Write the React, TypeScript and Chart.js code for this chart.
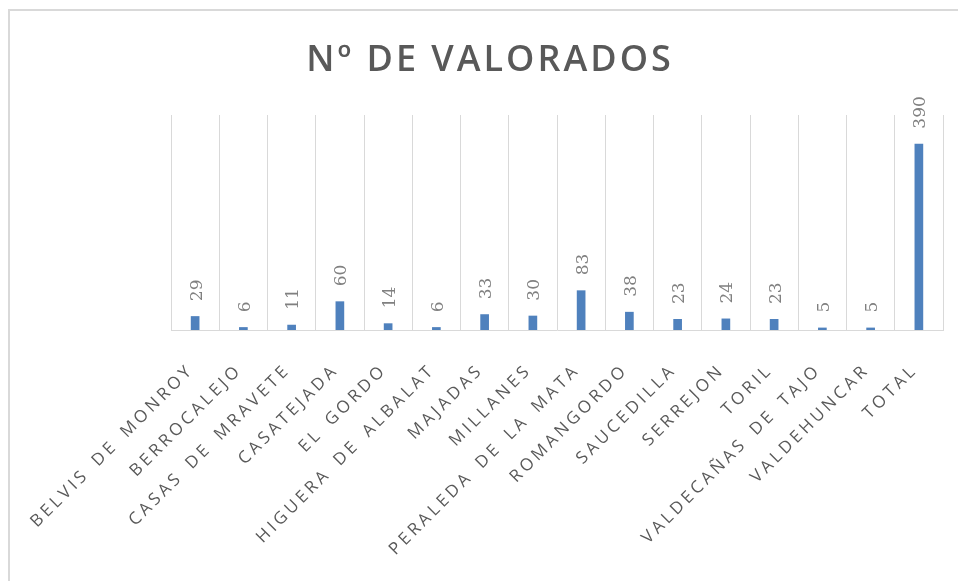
import React, { useEffect, useRef } from "react";
import { Chart, registerables } from "chart.js";

Chart.register(...registerables);

const TITLE = "Nº DE VALORADOS";
const categories = [
  "BELVIS DE MONROY",
  "BERROCALEJO",
  "CASAS DE MRAVETE",
  "CASATEJADA",
  "EL GORDO",
  "HIGUERA DE ALBALAT",
  "MAJADAS",
  "MILLANES",
  "PERALEDA DE LA MATA",
  "ROMANGORDO",
  "SAUCEDILLA",
  "SERREJON",
  "TORIL",
  "VALDECAÑAS DE TAJO",
  "VALDEHUNCAR",
  "TOTAL",
];
const values = [29, 6, 11, 60, 14, 6, 33, 30, 83, 38, 23, 24, 23, 5, 5, 390];
const Y_MIN = 0;
const Y_MAX = 450;

const W = 958;
const H = 581;

const spacingPlugin = {
  id: "spacing",
  beforeDraw(chart: any) {
    const ctx = chart.ctx as any;
    ctx.letterSpacing = "3.5px";
    ctx.wordSpacing = "4px";
  },
  beforeDatasetsDraw(chart: any) {
    const ctx = chart.ctx as any;
    ctx.letterSpacing = "0px";
    ctx.wordSpacing = "0px";
  },
};

const labelPlugin = {
  id: "valueLabels",
  afterDatasetsDraw(chart: any) {
    const ctx = chart.ctx as any;
    const meta = chart.getDatasetMeta(0);
    const data = chart.data.datasets[0].data;
    ctx.save();
    ctx.letterSpacing = "0px";
    ctx.font = "17px 'DejaVu Serif'";
    ctx.fillStyle = "#808080";
    ctx.textAlign = "left";
    ctx.textBaseline = "middle";
    meta.data.forEach((bar: any, i: number) => {
      ctx.save();
      ctx.translate(bar.x + 2, bar.y - 15);
      ctx.rotate(-Math.PI / 2);
      ctx.fillText(String(data[i]), 0, 0);
      ctx.restore();
    });
    ctx.restore();
  },
};

const titlePlugin = {
  id: "customTitle",
  afterDraw(chart: any) {
    const ctx = chart.ctx as any;
    ctx.save();
    ctx.letterSpacing = "3px";
    ctx.font = "600 36px 'Open Sans'";
    ctx.fillStyle = "#595959";
    ctx.textAlign = "center";
    ctx.textBaseline = "alphabetic";
    ctx.fillText(TITLE, 490, 71);
    ctx.restore();
  },
};

export default function App() {
  const ref = useRef<HTMLCanvasElement | null>(null);

  useEffect(() => {
    if (!ref.current) return;
    const chart = new Chart(ref.current, {
      type: "bar",
      data: {
        labels: categories,
        datasets: [
          {
            data: values,
            backgroundColor: "#4f81bd",
            barPercentage: 0.18,
            categoryPercentage: 1,
          },
        ],
      },
      options: {
        responsive: false,
        animation: false,
        devicePixelRatio: 1,
        layout: { padding: { left: 171, right: 15, top: 115, bottom: 0 } },
        plugins: {
          legend: { display: false },
          title: { display: false },
          tooltip: { enabled: false },
        },
        scales: {
          x: {
            grid: {
              offset: true,
              color: "#d9d9d9",
              drawTicks: false,
              lineWidth: 1,
            },
            border: { color: "#d9d9d9", width: 1 },
            ticks: {
              autoSkip: false,
              maxRotation: 45,
              minRotation: 45,
              padding: 30,
              labelOffset: -4,
              color: "#595959",
              font: { family: "'Open Sans'", size: 17 },
            },
            afterFit: (s: any) => {
              s.height = H - 330;
              s.paddingLeft = 0;
              s.paddingRight = 0;
            },
          },
          y: {
            display: false,
            min: Y_MIN,
            max: Y_MAX,
          },
        },
      },
      plugins: [spacingPlugin, labelPlugin, titlePlugin],
    });
    return () => chart.destroy();
  }, []);

  return (
    <div
      style={{
        position: "fixed",
        left: 0,
        top: 0,
        width: W,
        height: H,
        overflow: "hidden",
        background: "#fff",
      }}
    >
      <div
        style={{
          position: "absolute",
          left: 8,
          top: 9,
          width: 1000,
          height: 700,
          borderLeft: "2px solid #d9d9d9",
          borderTop: "2px solid #d9d9d9",
        }}
      />
      <canvas
        ref={ref}
        width={W}
        height={H}
        style={{ position: "absolute", left: 0, top: 0, width: W, height: H }}
      />
    </div>
  );
}
